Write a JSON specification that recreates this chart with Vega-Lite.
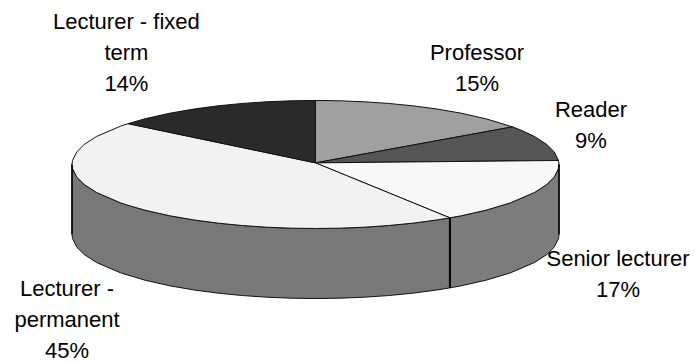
{
  "$schema": "https://vega.github.io/schema/vega-lite/v6.json",
  "width": 695,
  "height": 362,
  "padding": 0,
  "autosize": {"type": "none"},
  "background": "white",
  "config": {"view": {"stroke": null}},
  "datasets": {
    "pie": [
      {"part":"wall permanent","x":-1,"y":0,"y2":-1.094},
      {"part":"wall permanent","x":-0.998,"y":-0.0632,"y2":-1.1572},
      {"part":"wall permanent","x":-0.98,"y":-0.199,"y2":-1.293},
      {"part":"wall permanent","x":-0.95,"y":-0.3122,"y2":-1.4062},
      {"part":"wall permanent","x":-0.9,"y":-0.4359,"y2":-1.5299},
      {"part":"wall permanent","x":-0.8,"y":-0.6,"y2":-1.694},
      {"part":"wall permanent","x":-0.7,"y":-0.7141,"y2":-1.8081},
      {"part":"wall permanent","x":-0.6,"y":-0.8,"y2":-1.894},
      {"part":"wall permanent","x":-0.5,"y":-0.866,"y2":-1.96},
      {"part":"wall permanent","x":-0.4,"y":-0.9165,"y2":-2.0105},
      {"part":"wall permanent","x":-0.3,"y":-0.9539,"y2":-2.0479},
      {"part":"wall permanent","x":-0.2,"y":-0.9798,"y2":-2.0738},
      {"part":"wall permanent","x":-0.1,"y":-0.995,"y2":-2.089},
      {"part":"wall permanent","x":0,"y":-1,"y2":-2.094},
      {"part":"wall permanent","x":0.1,"y":-0.995,"y2":-2.089},
      {"part":"wall permanent","x":0.2,"y":-0.9798,"y2":-2.0738},
      {"part":"wall permanent","x":0.3,"y":-0.9539,"y2":-2.0479},
      {"part":"wall permanent","x":0.4,"y":-0.9165,"y2":-2.0105},
      {"part":"wall permanent","x":0.5,"y":-0.866,"y2":-1.96},
      {"part":"wall permanent","x":0.552,"y":-0.8338,"y2":-1.9278},
      {"part":"wall senior","x":0.552,"y":-0.8338,"y2":-1.9278},
      {"part":"wall senior","x":0.6,"y":-0.8,"y2":-1.894},
      {"part":"wall senior","x":0.7,"y":-0.7141,"y2":-1.8081},
      {"part":"wall senior","x":0.8,"y":-0.6,"y2":-1.694},
      {"part":"wall senior","x":0.9,"y":-0.4359,"y2":-1.5299},
      {"part":"wall senior","x":0.95,"y":-0.3122,"y2":-1.4062},
      {"part":"wall senior","x":0.98,"y":-0.199,"y2":-1.293},
      {"part":"wall senior","x":0.998,"y":-0.0632,"y2":-1.1572},
      {"part":"wall senior","x":1,"y":0,"y2":-1.094},

      {"part":"Professor","x":0,"y":1,"y2":0.025},
      {"part":"Professor","x":0.1,"y":0.995,"y2":0.0946},
      {"part":"Professor","x":0.2,"y":0.9798,"y2":0.1641},
      {"part":"Professor","x":0.3,"y":0.9539,"y2":0.2337},
      {"part":"Professor","x":0.4,"y":0.9165,"y2":0.3033},
      {"part":"Professor","x":0.5,"y":0.866,"y2":0.3729},
      {"part":"Professor","x":0.6,"y":0.8,"y2":0.4424},
      {"part":"Professor","x":0.7,"y":0.7141,"y2":0.512},
      {"part":"Professor","x":0.809,"y":0.5878,"y2":0.5878},

      {"part":"Reader","x":0,"y":0.025,"y2":0.025},
      {"part":"Reader","x":0.809,"y":0.5878,"y2":0.0557},
      {"part":"Reader","x":0.85,"y":0.5268,"y2":0.0572},
      {"part":"Reader","x":0.9,"y":0.4359,"y2":0.0591},
      {"part":"Reader","x":0.95,"y":0.3122,"y2":0.061},
      {"part":"Reader","x":0.98,"y":0.199,"y2":0.0621},
      {"part":"Reader","x":0.998,"y":0.0632,"y2":0.0628},

      {"part":"Senior lecturer","x":0,"y":0.025,"y2":0.025},
      {"part":"Senior lecturer","x":0.552,"y":0.0459,"y2":-0.8338},
      {"part":"Senior lecturer","x":0.6,"y":0.0477,"y2":-0.8},
      {"part":"Senior lecturer","x":0.7,"y":0.0515,"y2":-0.7141},
      {"part":"Senior lecturer","x":0.8,"y":0.0553,"y2":-0.6},
      {"part":"Senior lecturer","x":0.9,"y":0.0591,"y2":-0.4359},
      {"part":"Senior lecturer","x":0.95,"y":0.061,"y2":-0.3122},
      {"part":"Senior lecturer","x":0.98,"y":0.0621,"y2":-0.199},
      {"part":"Senior lecturer","x":0.998,"y":0.0628,"y2":-0.0632},
      {"part":"Senior lecturer","x":1,"y":0,"y2":0},

      {"part":"Lecturer - permanent","x":-1,"y":0,"y2":0},
      {"part":"Lecturer - permanent","x":-0.998,"y":0.0632,"y2":-0.0632},
      {"part":"Lecturer - permanent","x":-0.98,"y":0.199,"y2":-0.199},
      {"part":"Lecturer - permanent","x":-0.95,"y":0.3122,"y2":-0.3122},
      {"part":"Lecturer - permanent","x":-0.9,"y":0.4359,"y2":-0.4359},
      {"part":"Lecturer - permanent","x":-0.8,"y":0.6,"y2":-0.6},
      {"part":"Lecturer - permanent","x":-0.77,"y":0.638,"y2":-0.638},
      {"part":"Lecturer - permanent","x":-0.7,"y":0.5823,"y2":-0.7141},
      {"part":"Lecturer - permanent","x":-0.6,"y":0.5027,"y2":-0.8},
      {"part":"Lecturer - permanent","x":-0.5,"y":0.423,"y2":-0.866},
      {"part":"Lecturer - permanent","x":-0.4,"y":0.3434,"y2":-0.9165},
      {"part":"Lecturer - permanent","x":-0.3,"y":0.2638,"y2":-0.9539},
      {"part":"Lecturer - permanent","x":-0.2,"y":0.1842,"y2":-0.9798},
      {"part":"Lecturer - permanent","x":-0.1,"y":0.1046,"y2":-0.995},
      {"part":"Lecturer - permanent","x":0,"y":0.025,"y2":-1},
      {"part":"Lecturer - permanent","x":0.1,"y":-0.1306,"y2":-0.995},
      {"part":"Lecturer - permanent","x":0.2,"y":-0.2862,"y2":-0.9798},
      {"part":"Lecturer - permanent","x":0.3,"y":-0.4417,"y2":-0.9539},
      {"part":"Lecturer - permanent","x":0.4,"y":-0.5973,"y2":-0.9165},
      {"part":"Lecturer - permanent","x":0.5,"y":-0.7529,"y2":-0.866},
      {"part":"Lecturer - permanent","x":0.552,"y":-0.8338,"y2":-0.8338},

      {"part":"Lecturer - fixed term","x":-0.77,"y":0.638,"y2":0.638},
      {"part":"Lecturer - fixed term","x":-0.7,"y":0.7141,"y2":0.5823},
      {"part":"Lecturer - fixed term","x":-0.6,"y":0.8,"y2":0.5027},
      {"part":"Lecturer - fixed term","x":-0.5,"y":0.866,"y2":0.423},
      {"part":"Lecturer - fixed term","x":-0.4,"y":0.9165,"y2":0.3434},
      {"part":"Lecturer - fixed term","x":-0.3,"y":0.9539,"y2":0.2638},
      {"part":"Lecturer - fixed term","x":-0.2,"y":0.9798,"y2":0.1842},
      {"part":"Lecturer - fixed term","x":-0.1,"y":0.995,"y2":0.1046},
      {"part":"Lecturer - fixed term","x":0,"y":1,"y2":0.025}
    ],
    "edges": [
      {"x":-1,"y":0,"y2":-1.094,"w":1.5},
      {"x":0.552,"y":-0.8338,"y2":-1.9278,"w":2},
      {"x":1,"y":0,"y2":-1.094,"w":1.5}
    ],
    "labels": [
      {"label":"Professor\n15%","x":0.6632,"y":1.742},
      {"label":"Reader\n9%","x":1.1314,"y":0.8516},
      {"label":"Senior lecturer\n17%","x":1.2423,"y":-1.4766},
      {"label":"Lecturer -\npermanent\n45%","x":-1.0205,"y":-1.945},
      {"label":"Lecturer - fixed\nterm\n14%","x":-0.7766,"y":2.2266}
    ]
  },
  "layer": [
    {
      "data": {"name": "pie"},
      "mark": {"type": "area", "stroke": "#111111", "strokeWidth": 1, "interpolate": "linear"},
      "encoding": {
        "x": {"field": "x", "type": "quantitative", "axis": null,
              "scale": {"domain": [-1.2957, 1.5585], "nice": false, "zero": false}},
        "y": {"field": "y", "type": "quantitative", "axis": null, "stack": null,
              "scale": {"domain": [-3.086, 2.57], "nice": false, "zero": false}},
        "y2": {"field": "y2"},
        "detail": {"field": "part"},
        "color": {
          "field": "part", "type": "nominal", "legend": null,
          "scale": {
            "domain": ["wall permanent", "wall senior", "Professor", "Reader", "Senior lecturer", "Lecturer - permanent", "Lecturer - fixed term"],
            "range": ["#787878", "#7c7c7c", "#a0a0a0", "#555555", "#f8f8f8", "#f2f2f2", "#2a2a2a"]
          }
        }
      }
    },
    {
      "data": {"name": "edges"},
      "mark": {"type": "rule", "color": "#000000"},
      "encoding": {
        "x": {"field": "x", "type": "quantitative"},
        "y": {"field": "y", "type": "quantitative"},
        "y2": {"field": "y2"},
        "strokeWidth": {"field": "w", "type": "quantitative", "scale": null}
      }
    },
    {
      "data": {"name": "labels"},
      "mark": {"type": "text", "lineBreak": "\n", "lineHeight": 31, "font": "Liberation Sans", "fontSize": 22, "align": "center", "baseline": "middle", "color": "#000000"},
      "encoding": {
        "x": {"field": "x", "type": "quantitative"},
        "y": {"field": "y", "type": "quantitative"},
        "text": {"field": "label", "type": "nominal"}
      }
    }
  ]
}
